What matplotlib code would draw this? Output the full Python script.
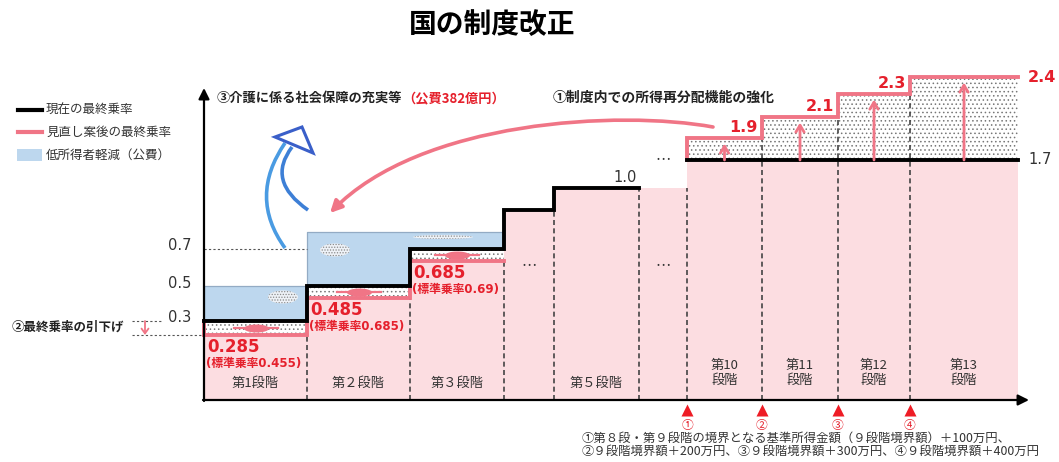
import matplotlib
matplotlib.use("Agg")
import matplotlib.pyplot as plt
import numpy as np
from matplotlib.patches import Ellipse, FancyArrowPatch, PathPatch, Polygon, Rectangle
from matplotlib.path import Path

plt.rcParams["font.family"] = ["Noto Sans CJK JP", "DejaVu Sans"]
plt.rcParams["hatch.linewidth"] = 0.6

# ---- chart values ----
stage_labels = ["第1段階", "第２段階", "第３段階", "…", "第５段階", "…",
                "第10\n段階", "第11\n段階", "第12\n段階", "第13\n段階"]
current_rate = [0.3, 0.5, 0.7, 0.9, 1.0, np.nan, 1.7, 1.7, 1.7, 1.7]
proposed_rate = [0.285, 0.485, 0.685, 0.9, 1.0, 1.0, 1.9, 2.1, 2.3, 2.4]
standard_rate = [0.5, 0.75, 0.75, np.nan, np.nan, np.nan, np.nan, np.nan, np.nan, np.nan]
standard_notes = ["(標準乗率0.455)", "(標準乗率0.685)", "(標準乗率0.69)"]
tick_values = [0.3, 0.5, 0.7]
boundary_marks = ["①", "②", "③", "④"]
footnotes = ["①第８段・第９段階の境界となる基準所得金額（９段階境界額）＋100万円、",
             "②９段階境界額＋200万円、③９段階境界額＋300万円、④９段階境界額＋400万円"]

# ---- layout (schematic, not to scale) ----
stage_edges = [204, 307, 410, 504, 554, 639, 687, 762, 838, 910, 1018]
boundary_edge_idx = [6, 7, 8, 9]
LEVEL_KNOTS = [-0.5, 0, 0.285, 0.3, 0.485, 0.5, 0.685, 0.7, 0.75, 0.9, 1.0,
               1.7, 1.9, 2.1, 2.3, 2.4, 3.5]
LEVEL_PX = [540, 400, 335, 321, 298, 286, 261, 249, 232, 210, 188,
            160, 138, 117, 94, 77, -60]

PINK_FILL = "#fcdde1"
PINK_LINE = "#f07586"
RED = "#e5202c"
BLUE_FILL = "#bdd7ee"
TXT = "#333333"
NUM_FONT = ["DejaVu Sans", "Noto Sans CJK JP"]


def level_to_screen(r):
    return -np.interp(r, LEVEL_KNOTS, LEVEL_PX)


def screen_to_level(v):
    return np.interp(-np.asarray(v), LEVEL_PX[::-1], LEVEL_KNOTS[::-1])


def groups(mask):
    out, g = [], []
    for i, m in enumerate(mask):
        if m:
            g.append(i)
        elif g:
            out.append(g)
            g = []
    if g:
        out.append(g)
    return out


fig = plt.figure(figsize=(10.59, 4.62), dpi=100)
ax = fig.add_axes([0, 0, 1, 1])
ov = fig.add_axes([0, 0, 1, 1])
for a in (ax, ov):
    a.set_axis_off()
ax.set_yscale("function", functions=(level_to_screen, screen_to_level))
ov.set_xlim(0, 1059)
ov.set_ylim(462, 0)

edges = np.array(stage_edges, float)
cur = np.array(current_rate)
prop = np.array(proposed_rate)
std = np.array(standard_rate)
n = len(prop)
base = np.fmin(cur, prop)
top = np.fmax(cur, prop)

# fills
for i in range(n):
    x = [edges[i], edges[i + 1]]
    ax.fill_between(x, 0, base[i], color=PINK_FILL, lw=0, zorder=1)
    if top[i] > base[i]:
        ax.fill_between(x, base[i], top[i], facecolor="white", edgecolor="#777777",
                        hatch="....", lw=0, zorder=1)
    if not np.isnan(std[i]):
        ax.fill_between(x, cur[i], std[i], color=BLUE_FILL, lw=0, zorder=1)

# outline of relief box
idx = [i for i in range(n) if not np.isnan(std[i])]
bx, by = [edges[idx[0]]], [cur[idx[0]]]
for i in idx:
    bx += [edges[i], edges[i + 1]]
    by += [std[i], std[i]]
bx.append(edges[idx[-1] + 1])
by.append(cur[idx[-1]])
ax.plot(bx, by, color="#93abc4", lw=0.9, zorder=2)

# stage dividers
for k in range(1, n):
    ax.plot([edges[k]] * 2, [0, min(prop[k - 1], prop[k])], color="#444444",
            lw=1.2, ls=(0, (3, 2)), zorder=2)

# proposed (pink) line
for g in groups([(not np.isnan(cur[i])) and prop[i] != cur[i] for i in range(n)]):
    xs, ys = [edges[g[0]]], [cur[g[0]]]
    for i in g:
        xs += [edges[i], edges[i + 1]]
        ys += [prop[i], prop[i]]
    ax.plot(xs, ys, color=PINK_LINE, lw=2.8, zorder=3, solid_joinstyle="miter")

# current (black) line
for g in groups(~np.isnan(cur)):
    xs, ys = [], []
    for i in g:
        xs += [edges[i], edges[i + 1]]
        ys += [cur[i], cur[i]]
    ax.plot(xs, ys, color="black", lw=2.8, zorder=4, solid_joinstyle="miter")

# red value labels in the low stages
t = np.linspace(0, 2 * np.pi, 40)
blob = Path(np.c_[np.cos(t), 0.32 * np.sin(t)])
for i in range(len(standard_notes)):
    ax.annotate(f"{prop[i]}", (edges[i], prop[i]), xytext=(3, -3),
                textcoords="offset pixels", ha="left", va="top", color=RED,
                fontsize=12, fontweight="bold", family=NUM_FONT, zorder=6)
    ax.annotate(standard_notes[i], (edges[i], prop[i]), xytext=(2, -22),
                textcoords="offset pixels", ha="left", va="top", color=RED,
                fontsize=8.5, fontweight="bold", family=NUM_FONT, zorder=6)
    xc = (edges[i] + edges[i + 1]) / 2
    ym = (cur[i] + prop[i]) / 2
    ax.plot([xc - 22, xc + 22], [ym, ym], color=PINK_LINE, lw=1.6, zorder=3)
    ax.plot([xc], [ym], marker=blob, ms=18, color=PINK_LINE, mec="none", zorder=3)

# raised rates in the top stages
for i in range(n):
    if np.isnan(cur[i]) or prop[i] <= cur[i]:
        continue
    xc = (edges[i] + edges[i + 1]) / 2
    ax.annotate("", xy=(xc, prop[i]), xytext=(xc, cur[i]),
                arrowprops=dict(arrowstyle="->,head_length=0.5,head_width=0.3",
                                color=PINK_LINE, lw=2, shrinkA=0, shrinkB=4),
                zorder=5)
    last = i == n - 1
    ax.annotate(f"{prop[i]}", (edges[i + 1], prop[i]),
                xytext=(10, 0) if last else (-4, 3), textcoords="offset pixels",
                ha="left" if last else "right", va="center" if last else "bottom",
                color=RED, fontsize=11.5, fontweight="bold", family=NUM_FONT)

ax.annotate(f"{cur[-1]}", (edges[-1], cur[-1]), xytext=(10, 0), textcoords="offset pixels",
            ha="left", va="center", color=TXT, fontsize=10.5, family=NUM_FONT)
ax.annotate(f"{cur[4]}", (edges[5], cur[4]), xytext=(-2, 3), textcoords="offset pixels",
            ha="right", va="bottom", color=TXT, fontsize=10.5, family=NUM_FONT)
ax.text((edges[5] + edges[6]) / 2, cur[6], "…", ha="center", va="center",
        color=TXT, fontsize=11)

# y tick labels and guides
for v in tick_values:
    ax.annotate(f"{v}", (180, v), xytext=(0, 3), textcoords="offset pixels",
                ha="center", va="center", color=TXT, fontsize=10.5, family=NUM_FONT)
guide = dict(color="#555555", lw=0.8, ls=(0, (2, 2)), zorder=2)
ax.plot([edges[0], edges[1]], [tick_values[2]] * 2, **guide)
ax.plot([132, 163], [tick_values[0]] * 2, **guide)
ax.plot([132, edges[0]], [prop[0]] * 2, **guide)
ax.annotate("", xy=(145, prop[0]), xytext=(145, cur[0]),
            arrowprops=dict(arrowstyle="->,head_length=0.35,head_width=0.25",
                            color=PINK_LINE, lw=1.3, shrinkA=0, shrinkB=0))
ov.text(12, 327, "②最終乗率の引下げ", ha="left", va="center", fontsize=9,
        fontweight="bold", color="#222222")

# stage labels
for i, lab in enumerate(stage_labels):
    xc = (edges[i] + edges[i + 1]) / 2
    if lab == "…":
        ov.text(xc, 267, lab, ha="center", va="center", color=TXT, fontsize=11)
    else:
        ov.text(xc, 383 if "\n" not in lab else 373, lab, ha="center", va="center",
                color=TXT, fontsize=9.5, linespacing=1.25)

# decorative dotted ellipses in the relief box
for (ex, ey, ew, eh) in [(283, 297, 30, 13), (335, 250, 30, 13), (443, 237, 60, 4)]:
    ov.add_patch(Ellipse((ex, ey), ew, eh, facecolor="#eef2f7", edgecolor="#8a8a8a",
                         hatch="......", lw=0, zorder=2))

# axes with arrow heads
ov.add_patch(FancyArrowPatch((204, 401), (204, 88), arrowstyle="-|>", mutation_scale=16,
                             color="black", lw=1.6, shrinkA=0, shrinkB=0, zorder=7))
ov.add_patch(FancyArrowPatch((203, 400), (1029, 400), arrowstyle="-|>", mutation_scale=16,
                             color="black", lw=1.6, shrinkA=0, shrinkB=0, zorder=7))

# boundary markers and footnotes
for k, mark in zip(boundary_edge_idx, boundary_marks):
    ov.plot([edges[k]], [410], marker="^", ms=9, color="#ee1c25", mec="none")
    ov.text(edges[k], 425, mark, ha="center", va="center", color=RED, fontsize=8.5)
for j, line in enumerate(footnotes):
    ov.text(582, 438 + 13 * j, line, ha="left", va="center", color=TXT, fontsize=8.9)

# legend
ov.plot([18, 42], [110, 110], color="black", lw=3)
ov.text(46, 110, "現在の最終乗率", va="center", fontsize=9, color=TXT)
ov.plot([18, 42], [132, 132], color=PINK_LINE, lw=3)
ov.text(46, 132, "見直し案後の最終乗率", va="center", fontsize=9, color=TXT)
ov.add_patch(Rectangle((17, 149), 25, 12, color=BLUE_FILL, lw=0))
ov.text(46, 155, "低所得者軽減（公費）", va="center", fontsize=9, color=TXT)

# annotations at the top
t1 = ov.text(217, 98, "③介護に係る社会保障の充実等", va="center", ha="left",
             fontsize=9.5, fontweight="bold", color="#222222")
ov.annotate("（公費382億円）", xy=(1, 0.5), xycoords=t1, va="center", ha="left",
            fontsize=9.5, fontweight="bold", color=RED)
ov.text(553, 98, "①制度内での所得再分配機能の強化", va="center", ha="left",
        fontsize=10, fontweight="bold", color="#222222")

# redistribution arrow (pink)
pink_arc = Path([(713, 127), (620, 110), (420, 120), (330, 213)],
                [Path.MOVETO, Path.CURVE4, Path.CURVE4, Path.CURVE4])
ov.add_patch(FancyArrowPatch(path=pink_arc, arrowstyle="-|>,head_length=7,head_width=3.5",
                             color=PINK_LINE, lw=2.6, zorder=5))

# social security arrow (blue)
ov.add_patch(PathPatch(Path([(285, 248), (248, 197), (285, 143)],
                            [Path.MOVETO, Path.CURVE3, Path.CURVE3]),
                       fill=False, edgecolor="#4a9be2", lw=2.6, zorder=5))
ov.add_patch(PathPatch(Path([(308, 210), (266, 181), (292, 147)],
                            [Path.MOVETO, Path.CURVE3, Path.CURVE3]),
                       fill=False, edgecolor="#3d7fd6", lw=2.6, zorder=5))
ov.add_patch(Polygon([(275, 137), (302, 127), (313, 153)], closed=True,
                     facecolor="white", edgecolor="#3a5fc9", lw=2.2, zorder=6))

ov.text(492, 25, "国の制度改正", ha="center", va="center", fontsize=20,
        fontweight="bold", color="black")

ax.set_xlim(0, 1059)
ax.set_ylim(float(screen_to_level(-462)), float(screen_to_level(0)))
fig.savefig("out.png", dpi=100)
